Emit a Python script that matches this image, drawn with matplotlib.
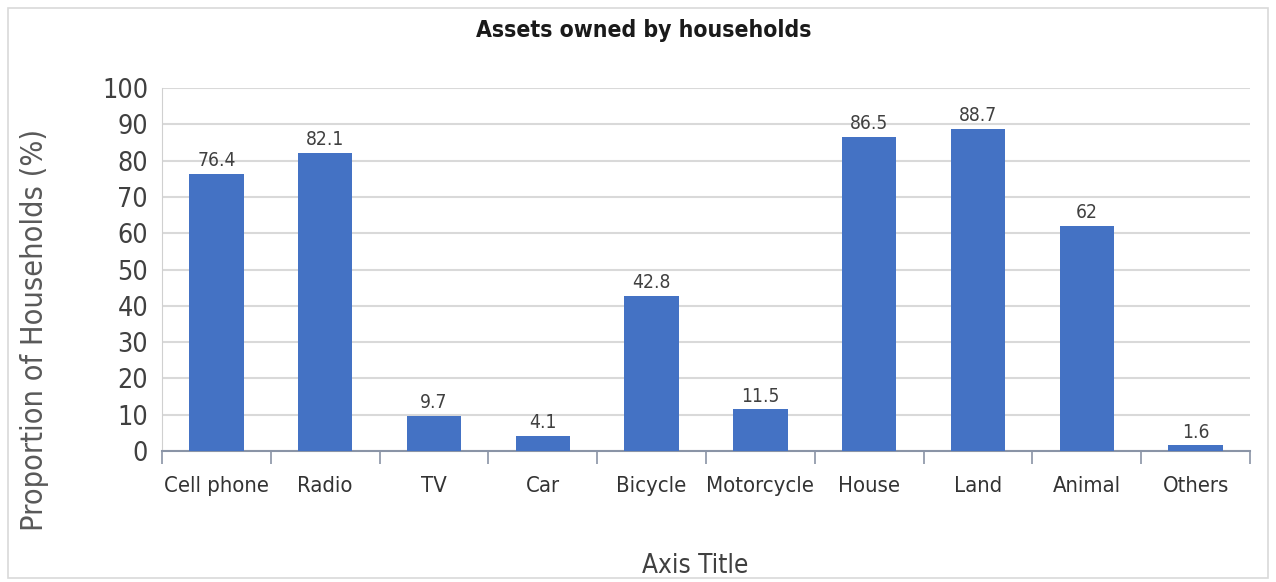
import matplotlib.pyplot as plt
from matplotlib import font_manager
from matplotlib.patches import Rectangle

# Household asset ownership
categories = ["Cell phone", "Radio", "TV", "Car", "Bicycle", "Motorcycle",
              "House", "Land", "Animal", "Others"]
values = [76.4, 82.1, 9.7, 4.1, 42.8, 11.5, 86.5, 88.7, 62, 1.6]
value_labels = ["76.4", "82.1", "9.7", "4.1", "42.8", "11.5", "86.5", "88.7", "62", "1.6"]
y_ticks = [0, 10, 20, 30, 40, 50, 60, 70, 80, 90, 100]

# use a condensed face when one is installed
has_cond = any(f.name == "DejaVu Sans" and "condensed" in str(f.stretch)
               for f in font_manager.fontManager.ttflist)
plt.rcParams['font.family'] = ['DejaVu Sans']
if has_cond:
    plt.rcParams['font.stretch'] = 'condensed'
    k = 1.1
else:
    k = 1.0

fig = plt.figure(figsize=(12.76, 5.82), dpi=100)
ax = fig.add_axes([162 / 1276, 1 - 451 / 582, (1250 - 162) / 1276, (451 - 88) / 582])

# outer chart border
fig.patches.append(Rectangle((8 / 1276, 4 / 582), 1260 / 1276, 570 / 582,
                             transform=fig.transFigure, fill=False,
                             edgecolor="#d9d9d9", linewidth=1.2))

x = range(len(categories))
bars = ax.bar(x, values, width=0.5, color="#4472C4", zorder=3)
for b, lab in zip(bars, value_labels):
    ax.text(b.get_x() + b.get_width() / 2, b.get_height() + 1, lab,
            ha="center", va="bottom", fontsize=12.5 * k, color="#404040")

ax.set_xlim(-0.5, len(categories) - 0.5)
ax.set_ylim(0, 100)
ax.set_yticks(y_ticks)
ax.set_yticklabels([str(t) for t in y_ticks], fontsize=17.5 * k, color="#404040")
ax.yaxis.grid(True, color="#d9d9d9", linewidth=1.5, zorder=0)
ax.tick_params(axis="y", length=0, pad=10)

# category labels centred, ticks on boundaries
ax.set_xticks(list(x))
ax.set_xticklabels(categories, fontsize=14.4 * k, color="#333333")
ax.set_xticks([i - 0.5 for i in range(len(categories) + 1)], minor=True)
ax.tick_params(axis="x", which="major", length=0, pad=18)
ax.tick_params(axis="x", which="minor", length=9, width=1.2, color="#8a94a6")

for s in ["top", "right"]:
    ax.spines[s].set_visible(False)
ax.spines["bottom"].set_color("#8a94a6")
ax.spines["bottom"].set_linewidth(1.5)
ax.spines["left"].set_color("#d0d0d0")

fig.text(644 / 1276, 1 - 31 / 582, "Assets owned by households", ha="center",
         va="center", fontsize=15 * k, fontweight="bold", color="#1a1a1a")
fig.text(35 / 1276, 1 - 330 / 582, "Proportion of Households (%)", rotation=90,
         ha="center", va="center", fontsize=20 * k, color="#595959")
fig.text(695 / 1276, 1 - 566 / 582, "Axis Title", ha="center", va="center",
         fontsize=17 * k, color="#404040")

fig.savefig("out.png", dpi=100)
